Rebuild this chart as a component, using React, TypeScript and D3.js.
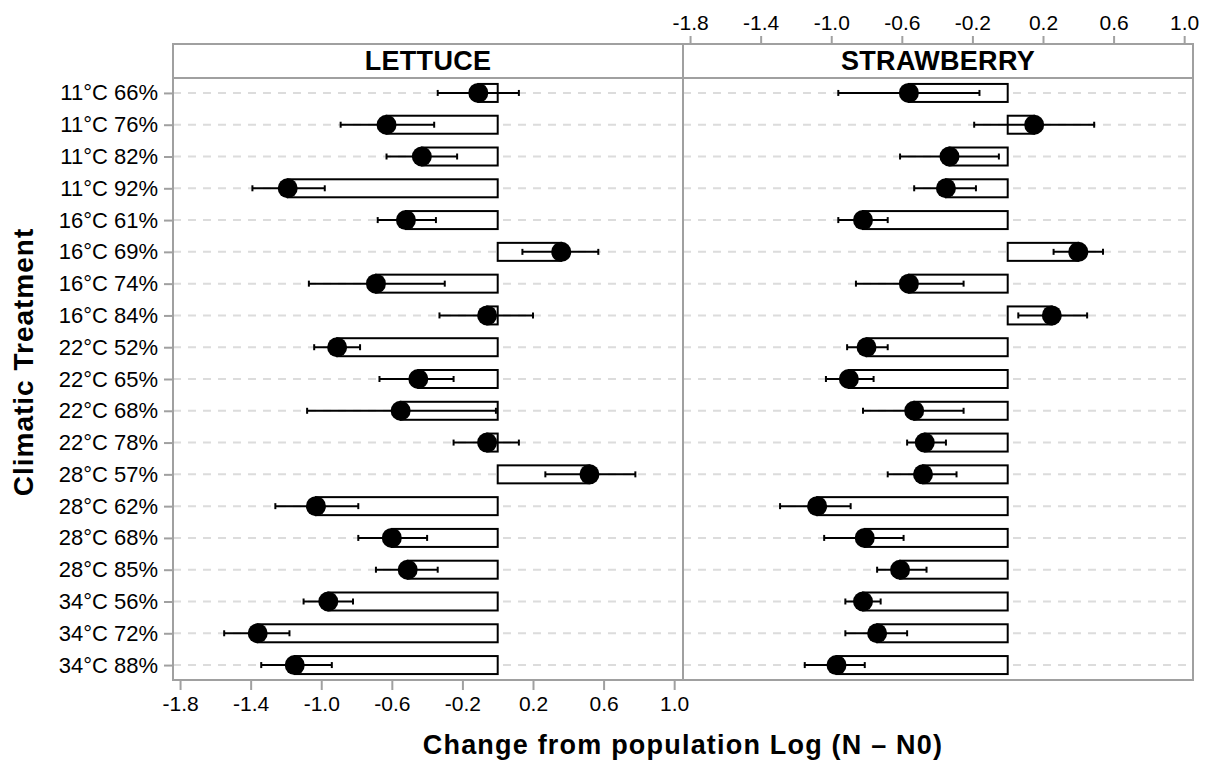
import React, { useEffect, useRef } from 'react';
import * as d3 from 'd3';

const treatments = [
  '11°C 66%', '11°C 76%', '11°C 82%', '11°C 92%',
  '16°C 61%', '16°C 69%', '16°C 74%', '16°C 84%',
  '22°C 52%', '22°C 65%', '22°C 68%', '22°C 78%',
  '28°C 57%', '28°C 62%', '28°C 68%', '28°C 85%',
  '34°C 56%', '34°C 72%', '34°C 88%',
];

const panels = ['LETTUCE', 'STRAWBERRY'];

// lettuce
const lettuceMean = [-0.11, -0.63, -0.43, -1.19, -0.52, 0.36, -0.69, -0.06, -0.91, -0.45, -0.55, -0.06, 0.52, -1.03, -0.6, -0.51, -0.96, -1.36, -1.15];
const lettuceLow = [-0.34, -0.89, -0.63, -1.39, -0.68, 0.14, -1.07, -0.33, -1.04, -0.67, -1.08, -0.25, 0.27, -1.26, -0.79, -0.69, -1.1, -1.55, -1.34];
const lettuceHigh = [0.12, -0.36, -0.23, -0.98, -0.35, 0.57, -0.3, 0.2, -0.78, -0.25, -0.01, 0.12, 0.78, -0.79, -0.4, -0.34, -0.82, -1.18, -0.94];

// strawberry
const strawMean = [-0.56, 0.15, -0.33, -0.35, -0.82, 0.4, -0.56, 0.25, -0.8, -0.9, -0.53, -0.47, -0.48, -1.08, -0.81, -0.61, -0.82, -0.74, -0.97];
const strawLow = [-0.96, -0.19, -0.61, -0.53, -0.96, 0.26, -0.86, 0.06, -0.91, -1.03, -0.82, -0.57, -0.68, -1.29, -1.04, -0.74, -0.92, -0.92, -1.15];
const strawHigh = [-0.16, 0.49, -0.05, -0.18, -0.68, 0.54, -0.25, 0.45, -0.68, -0.76, -0.25, -0.35, -0.29, -0.89, -0.59, -0.46, -0.72, -0.57, -0.81];

const tickValues = [-1.8, -1.4, -1.0, -0.6, -0.2, 0.2, 0.6, 1.0];

function App() {
  const svgRef = useRef(null);

  useEffect(() => {
    const svg = d3.select(svgRef.current);
    svg.selectAll('*').remove();

    const left = 173, panelW = 510;
    const top = 44, stripH = 34, bottom = 680;
    const font = '"Liberation Sans", Arial, sans-serif';
    const grey = '#a0a0a0';

    const y = d3.scalePoint()
      .domain(treatments)
      .range([top + stripH, bottom])
      .padding(0.47);

    const data = [
      { mean: lettuceMean, low: lettuceLow, high: lettuceHigh },
      { mean: strawMean, low: strawLow, high: strawHigh },
    ];

    const fmt = d => d.toFixed(1);

    // gridlines across both panels
    svg.append('g')
      .selectAll('line')
      .data(treatments)
      .join('line')
      .attr('x1', left)
      .attr('x2', left + panelW * 2)
      .attr('y1', d => y(d))
      .attr('y2', d => y(d))
      .attr('stroke', '#dcdcdc')
      .attr('stroke-width', 2)
      .attr('stroke-dasharray', '8,7');

    panels.forEach((name, p) => {
      const x0 = left + p * panelW;
      const x = d3.scaleLinear().domain([-1.84, 1.05]).range([x0, x0 + panelW]);
      const g = svg.append('g');
      const rows = treatments.map((t, i) => ({
        t, mean: data[p].mean[i], low: data[p].low[i], high: data[p].high[i]
      }));
      const barH = 18;

      g.selectAll('rect.bar')
        .data(rows)
        .join('rect')
        .attr('class', 'bar')
        .attr('x', d => x(Math.min(0, d.mean)))
        .attr('y', d => y(d.t) - barH / 2)
        .attr('width', d => Math.abs(x(d.mean) - x(0)))
        .attr('height', barH)
        .attr('fill', 'white')
        .attr('stroke', 'black')
        .attr('stroke-width', 2);

      g.selectAll('line.err')
        .data(rows)
        .join('line')
        .attr('class', 'err')
        .attr('x1', d => x(d.low))
        .attr('x2', d => x(d.high))
        .attr('y1', d => y(d.t))
        .attr('y2', d => y(d.t))
        .attr('stroke', 'black')
        .attr('stroke-width', 2);

      ['low', 'high'].forEach(k => {
        g.selectAll('line.cap-' + k)
          .data(rows)
          .join('line')
          .attr('class', 'cap-' + k)
          .attr('x1', d => x(d[k]))
          .attr('x2', d => x(d[k]))
          .attr('y1', d => y(d.t) - 3)
          .attr('y2', d => y(d.t) + 3)
          .attr('stroke', 'black')
          .attr('stroke-width', 2);
      });

      g.selectAll('circle')
        .data(rows)
        .join('circle')
        .attr('cx', d => x(d.mean))
        .attr('cy', d => y(d.t))
        .attr('r', 10)
        .attr('fill', 'black');

      // panel frame and strip
      g.append('rect')
        .attr('x', x0)
        .attr('y', top)
        .attr('width', panelW)
        .attr('height', bottom - top)
        .attr('fill', 'none')
        .attr('stroke', grey)
        .attr('stroke-width', 2);
      g.append('line')
        .attr('x1', x0).attr('x2', x0 + panelW)
        .attr('y1', top + stripH).attr('y2', top + stripH)
        .attr('stroke', grey)
        .attr('stroke-width', 2);
      g.append('text')
        .attr('x', x0 + panelW / 2)
        .attr('y', top + 26)
        .attr('text-anchor', 'middle')
        .style('font-family', font)
        .style('font-weight', 'bold')
        .style('font-size', '27px')
        .style('letter-spacing', '0.3px')
        .text(name);

      // alternating axes: bottom on the left panel, top on the right
      const axis = p === 0
        ? d3.axisBottom(x).tickValues(tickValues).tickFormat(fmt).tickSize(10).tickPadding(6)
        : d3.axisTop(x).tickValues(tickValues).tickFormat(fmt).tickSize(8).tickPadding(6);
      const ag = svg.append('g')
        .attr('transform', `translate(0,${p === 0 ? bottom : top})`)
        .call(axis);
      ag.select('.domain').remove();
      ag.selectAll('line').attr('stroke', grey).attr('stroke-width', 2);
      ag.selectAll('text')
        .attr('fill', 'black')
        .style('font-family', font)
        .style('font-size', '21px');
    });

    // y axis
    const yg = svg.append('g')
      .attr('transform', `translate(${left},0)`)
      .call(d3.axisLeft(y).tickSize(9).tickPadding(6));
    yg.select('.domain').remove();
    yg.selectAll('line').attr('stroke', grey).attr('stroke-width', 2);
    yg.selectAll('text')
      .attr('fill', 'black')
      .style('font-family', font)
      .style('font-size', '22px');

    // titles
    svg.append('text')
      .attr('transform', `translate(33,${(top + bottom) / 2}) rotate(-90)`)
      .attr('text-anchor', 'middle')
      .style('font-family', font)
      .style('font-weight', 'bold')
      .style('font-size', '28px')
      .style('letter-spacing', '1px')
      .text('Climatic Treatment');

    svg.append('text')
      .attr('x', left + panelW)
      .attr('y', 754)
      .attr('text-anchor', 'middle')
      .style('font-family', font)
      .style('font-weight', 'bold')
      .style('font-size', '27px')
      .style('letter-spacing', '1.2px')
      .text('Change from population Log (N – N0)');
  }, []);

  return (
    <svg
      ref={svgRef}
      width={1210}
      height={761}
      style={{ position: 'absolute', left: 0, top: 0, background: 'white' }}
    />
  );
}

export default App;
